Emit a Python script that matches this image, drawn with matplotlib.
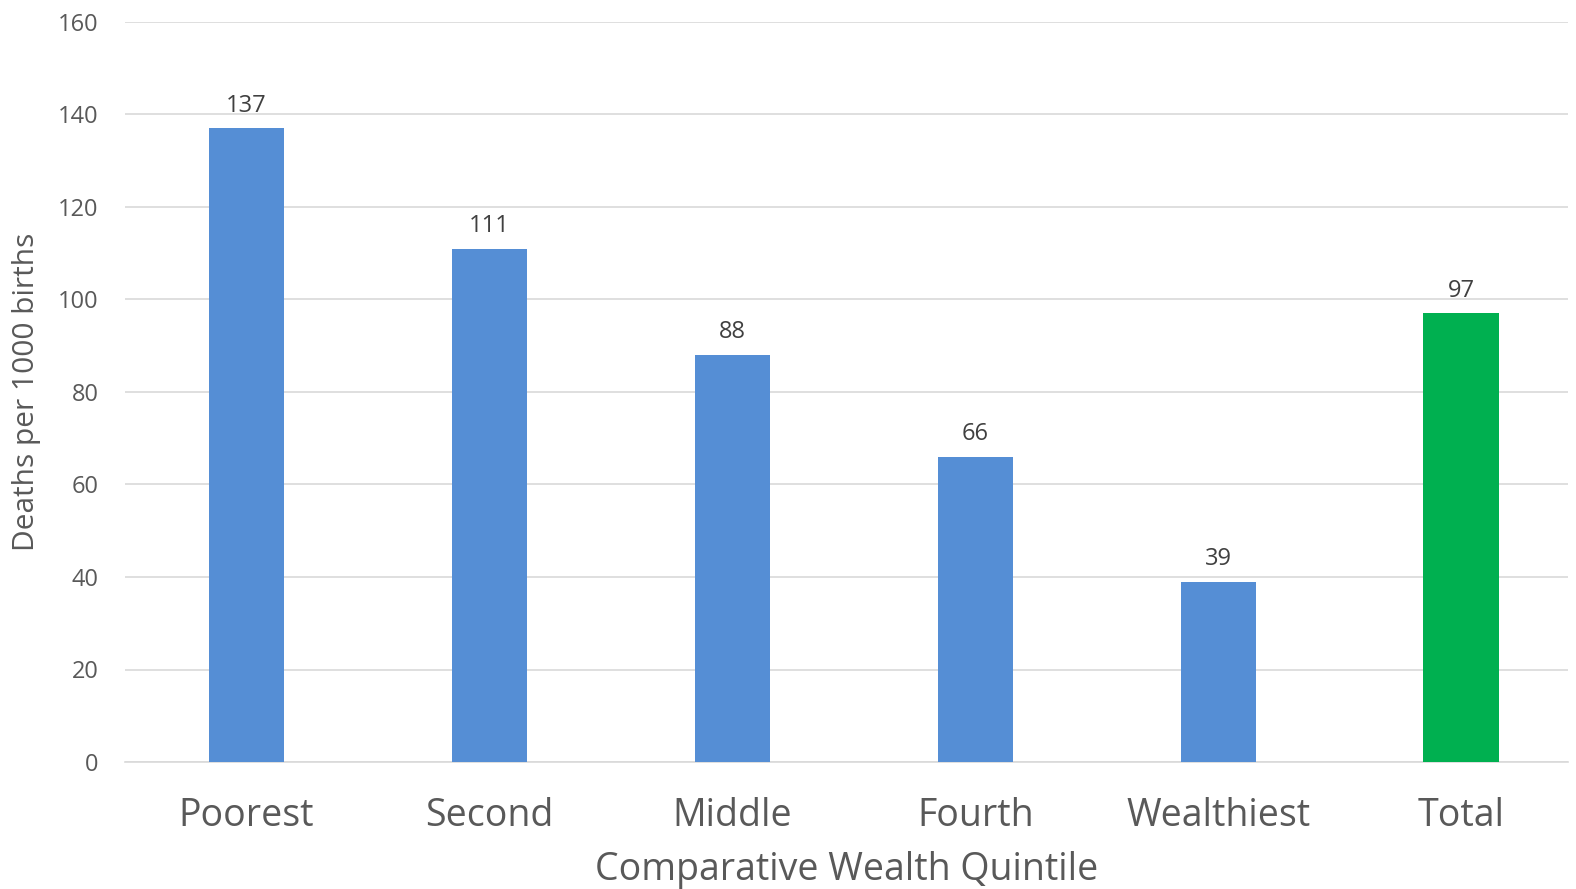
import matplotlib.pyplot as plt
import numpy as np

plt.rcParams['font.family'] = ['Open Sans', 'DejaVu Sans']

categories = ['Poorest', 'Second', 'Middle', 'Fourth', 'Wealthiest', 'Total']
deaths = [137, 111, 88, 66, 39, 97]
bar_colors = ['#558ED5'] * 5 + ['#00B050']
y_ticks = [0, 20, 40, 60, 80, 100, 120, 140, 160]

W, H = 1576, 889
fig = plt.figure(figsize=(W / 100, H / 100), dpi=100)
# axes box in pixels: left 125, right 1568, bottom y=762, top y=22
ax = fig.add_axes([125 / W, 1 - 762 / H, (1568 - 125) / W, (762 - 22) / H])

x = np.arange(len(categories))
bars = ax.bar(x, deaths, width=0.31, color=bar_colors, zorder=3)
for b, v in zip(bars, deaths):
    ax.text(b.get_x() + b.get_width() / 2, v + 2.3, str(v), ha='center', va='bottom',
            fontsize=17, color='#404040')

ax.set_xlim(-0.5, 5.44)
ax.set_ylim(0, 160)
ax.set_yticks(y_ticks)
ax.set_xticks(x)
ax.set_xticklabels(categories, fontsize=27, color='#595959')
ax.tick_params(axis='y', labelsize=17, labelcolor='#595959', length=0, pad=19)
ax.tick_params(axis='x', length=0, pad=25)
ax.grid(axis='y', color='#D9D9D9', linewidth=1.2, zorder=0)
for s in ['top', 'right', 'left']:
    ax.spines[s].set_visible(False)
ax.spines['bottom'].set_color('#D9D9D9')
ax.spines['bottom'].set_linewidth(1.2)

ax.set_ylabel('Deaths per 1000 births', fontsize=21.5, color='#595959', labelpad=12)
ax.set_xlabel('Comparative Wealth Quintile', fontsize=27, color='#595959', labelpad=12)

fig.savefig('out.png', dpi=100)
